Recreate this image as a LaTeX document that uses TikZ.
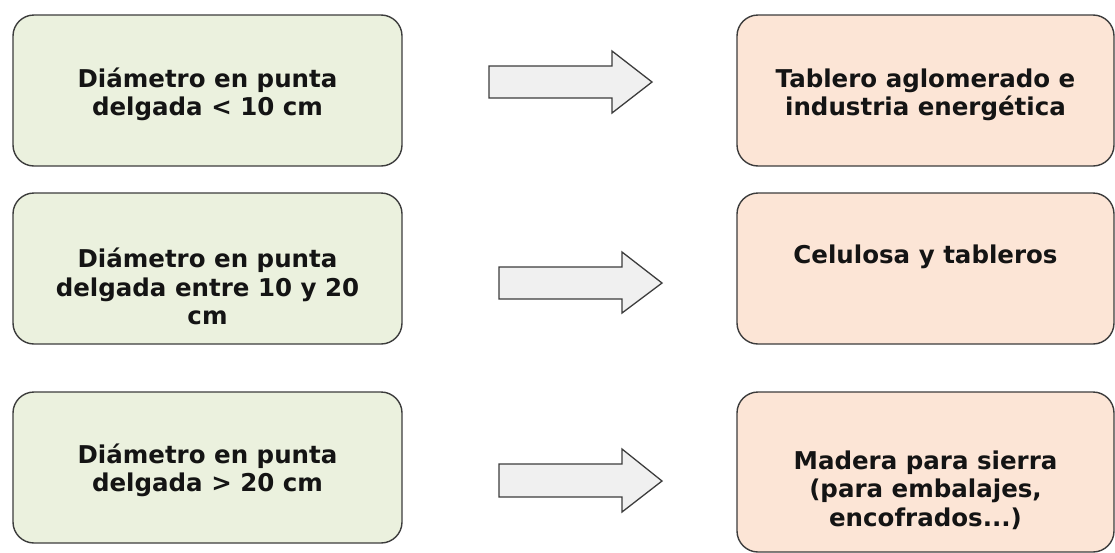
\documentclass[tikz,border=0pt]{standalone}
\usepackage{fontspec}
\setmainfont{DejaVu Sans}
\usetikzlibrary{calc}
\definecolor{greenfill}{HTML}{EBF1DE}
\definecolor{peachfill}{HTML}{FCE5D6}
\definecolor{edgegray}{HTML}{3C3C3C}
\definecolor{arrowfill}{HTML}{F0F0F0}
\definecolor{txtcol}{HTML}{141414}
\tikzset{
  box/.style={draw=edgegray, line width=1.4pt, rounded corners=21pt, inner sep=0pt},
  greenbox/.style={box, fill=greenfill, minimum width=389pt},
  peachbox/.style={box, fill=peachfill, minimum width=377pt},
  txt/.style={font=\fontsize{24.5}{28.5}\selectfont\bfseries, text=txtcol, align=center, inner sep=0pt},
  blockarrow/.style={draw=edgegray, line width=1.3pt, fill=arrowfill, line join=miter}
}
\begin{document}
\begin{tikzpicture}[x=1pt,y=-1pt]
\useasboundingbox (0,0) rectangle (1115,552);
% left boxes
\node[greenbox, minimum height=151pt] (g1) at (207.5,90.5) {};
\node[greenbox, minimum height=151pt] (g2) at (207.5,268.5) {};
\node[greenbox, minimum height=151pt] (g3) at (207.5,467.5) {};
% right boxes
\node[peachbox, minimum height=151pt] (p1) at (925.5,90.5) {};
\node[peachbox, minimum height=151pt] (p2) at (925.5,268.5) {};
\node[peachbox, minimum height=160pt] (p3) at (925.5,472) {};
% texts
\node[txt] (tg1) at ($(g1.center)+(0,4)$) {Diámetro en punta\\delgada < 10 cm};
\node[txt] (tg2) at ($(g2.center)+(0,18)$) {Diámetro en punta\\delgada entre 10 y 20\\cm};
\node[txt] (tg3) at ($(g3.center)+(0,3)$) {Diámetro en punta\\delgada > 20 cm};
\node[txt] (tp1) at ($(p1.center)+(0,4.5)$) {Tablero aglomerado e\\industria energética};
\node[txt] (tp2) at ($(p2.center)+(0,-12)$) {Celulosa y tableros};
\node[txt] (tp3) at ($(p3.center)+(0,18)$) {Madera para sierra\\(para embalajes,\\encofrados...)};
% block arrows
\draw[blockarrow] (489,66) -- (612,66) -- (612,51) -- (652,82) -- (612,113) -- (612,98) -- (489,98) -- cycle;
\draw[blockarrow] (499,267) -- (622,267) -- (622,252) -- (662,283) -- (622,313) -- (622,299) -- (499,299) -- cycle;
\draw[blockarrow] (499,464) -- (622,464) -- (622,449) -- (662,481) -- (622,512) -- (622,497) -- (499,497) -- cycle;
\end{tikzpicture}
\end{document}
